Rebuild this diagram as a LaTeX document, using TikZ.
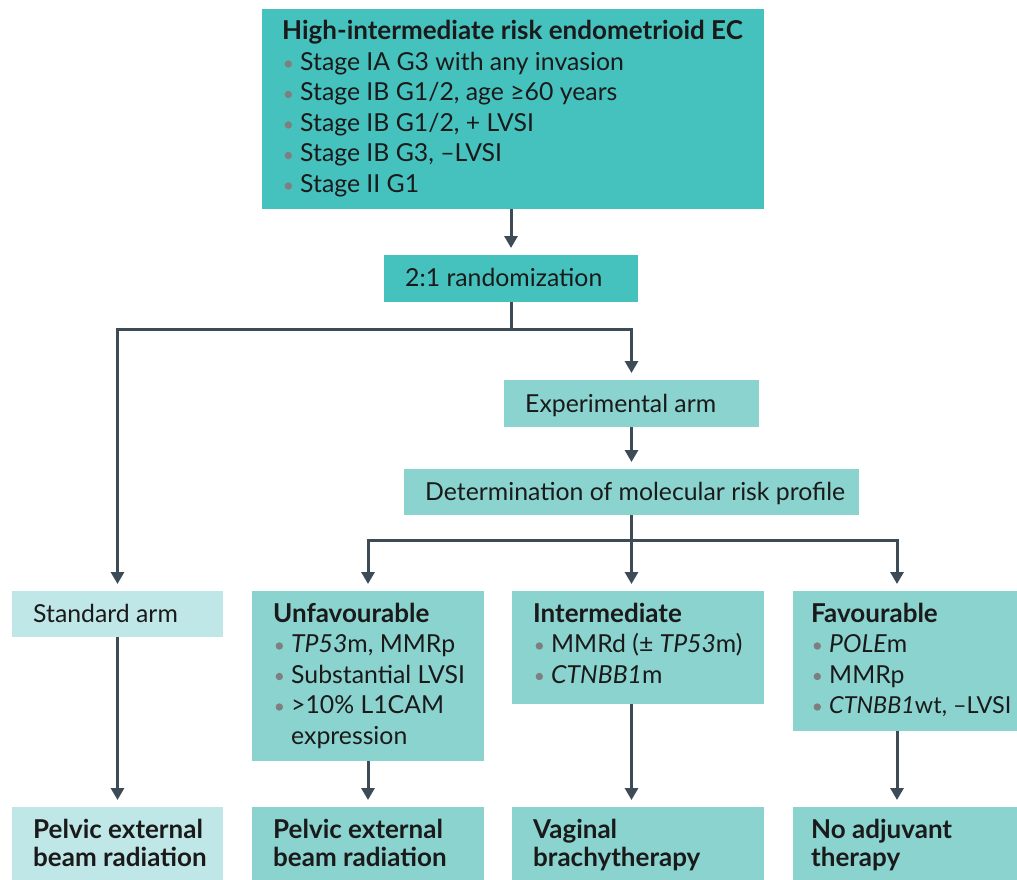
\documentclass[tikz,border=0pt]{standalone}
\usepackage{fontspec}
\setmainfont{Lato}
\usetikzlibrary{arrows.meta,calc}
\definecolor{tealA}{HTML}{46C2BE}
\definecolor{tealB}{HTML}{8AD3CF}
\definecolor{tealC}{HTML}{C0E7E7}
\definecolor{arrc}{HTML}{3D4B57}
\definecolor{bulg}{HTML}{7F7F7F}
\definecolor{txtc}{HTML}{1A1A1A}
\newcommand{\bl}{\makebox[18pt][l]{\hspace{2.4pt}\raisebox{2.8pt}{\tikz\fill[bulg] (0pt,0pt) circle (3.7pt);}}}
\newcommand{\hd}[1]{{\fontsize{26}{30.5}\selectfont\bfseries #1}}
\newcommand{\lines}[1]{\begin{tabular}[t]{@{}l@{}}#1\end{tabular}}
\tikzset{
  box/.style={anchor=north west, inner sep=0pt, outer sep=0pt},
  tx/.style={anchor=base west, inner sep=0pt, text=txtc, font=\fontsize{24.8}{30.5}\selectfont},
  txb/.style={tx, font=\fontsize{26}{28.5}\selectfont\bfseries},
  conn/.style={draw=arrc, line width=3pt},
  ar/.style={conn, -{Triangle[width=13pt,length=12pt]}, shorten >=7pt},
}
\begin{document}
\begin{tikzpicture}[x=1pt,y=1pt]
\useasboundingbox (0,0) rectangle (1017,-880);
% boxes
\node[box, fill=tealA, minimum width=502pt, minimum height=200pt] (top) at (262,-9) {};
\node[box, fill=tealA, minimum width=254pt, minimum height=47pt] (rand) at (384,-255) {};
\node[box, fill=tealB, minimum width=255pt, minimum height=47pt] (exp) at (504,-380) {};
\node[box, fill=tealB, minimum width=455pt, minimum height=46pt] (det) at (404,-469) {};
\node[box, fill=tealC, minimum width=211pt, minimum height=46pt] (std) at (12,-591) {};
\node[box, fill=tealB, minimum width=232pt, minimum height=170pt] (unf) at (252,-591) {};
\node[box, fill=tealB, minimum width=252pt, minimum height=113pt] (int) at (512,-591) {};
\node[box, fill=tealB, minimum width=224pt, minimum height=140pt] (fav) at (793,-591) {};
\node[box, fill=tealC, minimum width=211pt, minimum height=73pt] (stdr) at (12,-807) {};
\node[box, fill=tealB, minimum width=232pt, minimum height=73pt] (unfr) at (252,-807) {};
\node[box, fill=tealB, minimum width=252pt, minimum height=73pt] (intr) at (512,-807) {};
\node[box, fill=tealB, minimum width=224pt, minimum height=73pt] (favr) at (793,-807) {};
% texts
\node[tx] (topt) at (282,-40) {\lines{\hd{High-intermediate risk endometrioid EC}\\
\bl Stage IA G3 with any invasion\\
\bl Stage IB G1/2, age ≥60 years\\
\bl Stage IB G1/2, + LVSI\\
\bl Stage IB G3, –LVSI\\
\bl Stage II G1}};
\node[tx] (randt) at (405,-286) {2:1 randomization};
\node[tx] (expt) at (525,-412) {Experimental arm};
\node[tx] (dett) at (425,-500) {Determination of molecular risk profile};
\node[tx] (stdt) at (33,-622) {Standard arm};
\node[tx] (unft) at (273,-622) {\lines{\hd{Unfavourable}\\
\bl\textit{TP53}m, MMRp\\
\bl Substantial LVSI\\
\bl >10\% L1CAM\\
\hspace*{18pt}expression}};
\node[tx] (intt) at (533,-622) {\lines{\hd{Intermediate}\\
\bl MMRd (± \textit{TP53}m)\\
\bl\textit{CTNBB1}m}};
\node[tx] (favt) at (811,-622) {\lines{\hd{Favourable}\\
\bl\textit{POLE}m\\
\bl MMRp\\
\bl{\fontsize{23.4}{30.5}\selectfont\textit{CTNBB1}wt, –LVSI}}};
\node[txb] (stdrt) at (33,-838) {\lines{Pelvic external\\beam radiation}};
\node[txb] (unfrt) at (273,-838) {\lines{Pelvic external\\beam radiation}};
\node[txb] (intrt) at (533,-838) {\lines{Vaginal\\brachytherapy}};
\node[txb] (favrt) at (811,-838) {\lines{No adjuvant\\therapy}};
% connectors
\draw[ar] (rand.north |- top.south) -- (rand.north);
\draw[conn] (rand.south) -- ++(0,-27) coordinate (s1);
\draw[ar] (s1) -| (std.north);
\draw[ar] (s1) -| (exp.north);
\draw[ar] (exp.south) -- (det.north);
\draw[conn] (det.south) -- ++(0,-25) coordinate (s2);
\draw[ar] (s2) -| (unf.north);
\draw[ar] (s2) -- (s2 |- int.north);
\draw[ar] (s2) -| ($(fav.north west)+(104,0)$);
\draw[ar] (std.south) -- (stdr.north);
\draw[ar] (unf.south) -- (unfr.north);
\draw[ar] (int.south -| s2) -- (intr.north -| s2);
\draw[ar] ($(fav.south west)+(104,0)$) -- ($(favr.north west)+(104,0)$);
\end{tikzpicture}
\end{document}
